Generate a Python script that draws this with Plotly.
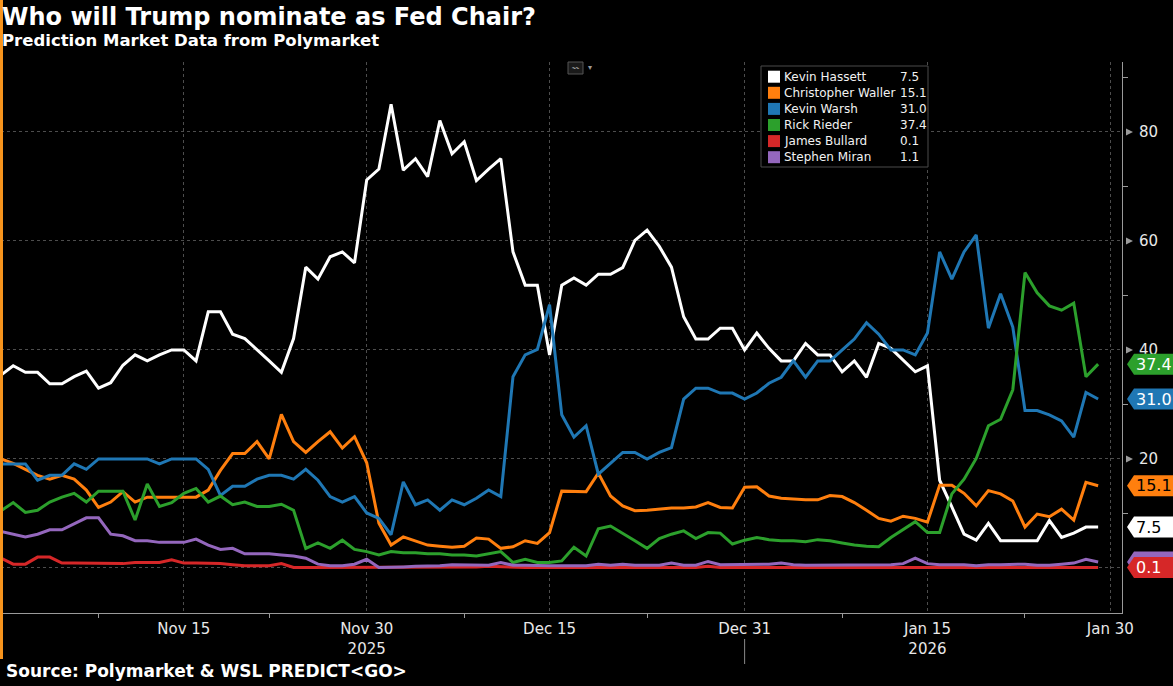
import plotly.graph_objects as go
import pandas as pd

# ---------------- data (daily, Oct 31 2025 .. Jan 29 2026) ----------------
start_date = "2025-10-31"

hassett = [35.4, 37.1, 35.9, 35.9, 33.8, 33.8, 35.1, 36.1, 33.0, 34.0,
           37.2, 39.1, 38.0, 39.1, 40.0, 40.0, 38.0, 47.0, 47.0, 42.9,
           42.1, 40.1, 38.0, 35.9, 42.1, 55.2, 53.0, 57.1, 58.0, 56.0,
           71.2, 73.2, 85.1, 73.0, 75.1, 71.8, 82.1, 76.0, 78.2, 71.1,
           73.2, 75.1, 58.0, 51.9, 51.9, 39.1, 51.9, 53.2, 51.9, 53.9,
           53.9, 55.1, 60.1, 62.0, 59.0, 55.2, 46.1, 42.0, 42.0, 44.0,
           44.0, 40.0, 43.1, 40.3, 38.0, 38.0, 41.2, 39.1, 39.1, 36.0,
           38.0, 35.0, 41.2, 40.3, 38.2, 36.0, 37.1, 16.1, 11.2, 6.2,
           5.1, 8.2, 5.0, 5.0, 5.0, 5.0, 8.7, 5.6, 6.4, 7.5,
           7.5]

waller = [20.0, 19.2, 18.1, 17.0, 16.3, 17.0, 16.3, 14.3, 11.1, 12.1,
          14.0, 12.1, 13.0, 13.0, 13.0, 13.0, 13.0, 14.3, 17.9, 21.0,
          21.0, 23.2, 20.0, 28.2, 23.2, 21.2, 23.2, 25.0, 22.0, 24.1,
          19.3, 8.2, 4.2, 5.7, 5.0, 4.2, 4.0, 3.8, 4.0, 5.5,
          5.3, 3.6, 3.9, 5.0, 4.5, 6.5, 14.1, 14.1, 14.0, 17.4,
          13.2, 11.4, 10.5, 10.6, 10.8, 11.0, 11.0, 11.2, 12.0, 11.1,
          11.0, 14.8, 14.9, 13.2, 12.8, 12.6, 12.5, 12.5, 13.3, 13.1,
          12.0, 10.6, 9.1, 8.6, 9.5, 9.1, 8.4, 15.2, 15.2, 13.7,
          11.4, 14.2, 13.6, 12.3, 7.5, 9.9, 9.4, 10.8, 8.8, 15.7,
          15.1]

warsh = [19.1, 19.1, 19.1, 16.1, 17.0, 17.0, 19.1, 18.1, 20.0, 20.0,
         20.0, 20.0, 20.0, 19.1, 20.0, 20.0, 20.0, 18.1, 13.3, 15.0,
         15.0, 16.3, 17.0, 17.0, 16.3, 18.1, 16.1, 13.1, 12.1, 13.1,
         10.1, 9.1, 6.1, 15.8, 11.6, 12.5, 10.6, 12.5, 11.6, 12.8,
         14.3, 13.1, 35.1, 39.1, 40.1, 48.3, 28.1, 24.0, 26.1, 17.2,
         19.2, 21.2, 21.2, 20.0, 21.2, 22.1, 31.0, 33.0, 33.0, 32.1,
         32.1, 31.0, 32.1, 33.9, 35.0, 38.0, 35.0, 38.0, 38.0, 40.0,
         42.0, 45.0, 42.9, 40.0, 40.0, 39.1, 43.1, 58.0, 53.0, 58.0,
         61.1, 44.0, 50.3, 44.2, 28.9, 28.9, 28.1, 27.0, 24.0, 32.2,
         31.0]

rieder = [10.5, 12.0, 10.2, 10.6, 12.1, 13.0, 13.7, 12.1, 14.1, 14.1,
          14.1, 8.8, 15.4, 11.3, 12.0, 13.7, 14.6, 12.1, 13.2, 11.6,
          12.1, 11.3, 11.3, 11.7, 10.6, 3.6, 4.6, 3.6, 5.1, 3.4,
          3.0, 2.4, 3.0, 2.8, 2.8, 2.6, 2.6, 2.4, 2.4, 2.2,
          2.6, 3.0, 1.0, 1.6, 1.0, 1.0, 1.3, 3.8, 2.2, 7.2,
          7.7, 6.4, 5.0, 3.6, 5.4, 6.2, 6.8, 5.4, 6.5, 6.4,
          4.4, 5.1, 5.6, 5.2, 5.0, 5.0, 4.8, 5.2, 5.0, 4.6,
          4.2, 4.0, 3.9, 5.6, 7.0, 8.5, 6.5, 6.5, 13.6, 16.3,
          20.1, 26.1, 27.3, 32.7, 54.2, 50.5, 48.1, 47.3, 48.6, 35.1,
          37.4]

bullard = [1.8, 0.7, 0.7, 2.0, 2.0, 0.9, 0.9, 0.9, 0.9, 0.9,
           0.8, 1.0, 1.0, 1.0, 1.5, 0.9, 0.9, 0.9, 0.8, 0.6,
           0.4, 0.4, 0.4, 0.8, 0.1, 0.1, 0.1, 0.1, 0.1, 0.1,
           0.2, 0.1, 0.1, 0.1, 0.1, 0.1, 0.1, 0.1, 0.2, 0.2,
           0.3, 0.2, 0.1, 0.1, 0.1, 0.1, 0.1, 0.1, 0.1, 0.2,
           0.1, 0.1, 0.1, 0.1, 0.1, 0.2, 0.1, 0.1, 0.3, 0.1,
           0.1, 0.1, 0.1, 0.2, 0.1, 0.1, 0.1, 0.1, 0.1, 0.1,
           0.1, 0.1, 0.1, 0.1, 0.1, 0.2, 0.1, 0.1, 0.1, 0.1,
           0.1, 0.1, 0.1, 0.1, 0.1, 0.1, 0.1, 0.1, 0.2, 0.2,
           0.1]

miran = [6.7, 6.2, 5.7, 6.2, 7.0, 7.0, 8.1, 9.2, 9.2, 6.2,
         5.9, 5.0, 5.0, 4.7, 4.7, 4.7, 5.3, 4.2, 3.4, 3.6,
         2.6, 2.6, 2.6, 2.4, 2.2, 1.8, 0.7, 0.4, 0.4, 0.7,
         1.6, 0.1, 0.1, 0.2, 0.3, 0.3, 0.4, 0.6, 0.6, 0.5,
         0.5, 1.0, 0.5, 0.5, 0.4, 0.4, 0.4, 0.4, 0.4, 0.7,
         0.5, 0.7, 0.5, 0.5, 0.5, 0.9, 0.5, 0.5, 1.2, 0.6,
         0.6, 0.6, 0.6, 0.7, 0.9, 0.6, 0.5, 0.5, 0.6, 0.6,
         0.5, 0.5, 0.5, 0.6, 0.8, 1.8, 0.8, 0.6, 0.6, 0.6,
         0.4, 0.6, 0.6, 0.6, 0.7, 0.5, 0.5, 0.7, 0.9, 1.6,
         1.1]

names = ["Kevin Hassett", "Christopher Waller", "Kevin Warsh",
         "Rick Rieder", "James Bullard", "Stephen Miran"]
series = [hassett, waller, warsh, rieder, bullard, miran]
colors = ["#ffffff", "#ff7f0e", "#1f77b4", "#2ca02c", "#d62728", "#9467bd"]
tag_text_colors = ["#000000", "#000000", "#ffffff", "#ffffff", "#ffffff", "#ffffff"]

x_tickvals = ["2025-11-15", "2025-11-30", "2025-12-15", "2025-12-31", "2026-01-15", "2026-01-30"]
x_ticktext = ["Nov 15", "Nov 30<br>2025", "Dec 15", "Dec 31", "Jan 15<br>2026", "Jan 30"]
x_minor = ["2025-11-08", "2025-11-22", "2025-12-08", "2025-12-23", "2026-01-08", "2026-01-23"]
y_tickvals = [0, 20, 40, 60, 80]
y_ticktext = ["", "20", "40", "60", "80"]
y_minor = [10, 30, 50, 70, 90]

title = "Who will Trump nominate as Fed Chair?"
subtitle = "Prediction Market Data from Polymarket"
source = "Source: Polymarket &amp; WSL PREDICT&lt;GO&gt;"

# ---------------- layout geometry (pixels) ----------------
W, H = 1173, 686
ML, MR, MT, MB = 1, 51, 62, 73
PW = W - ML - MR
PH = H - MT - MB


def px(x):
    return (x - ML) / PW


def py(y):
    return (H - MB - y) / PH


FONT = "DejaVu Sans"
dates = pd.date_range(start_date, periods=len(hassett), freq="D")

fig = go.Figure()
for nm, vals, col in zip(names, series, colors):
    fig.add_trace(go.Scatter(x=dates, y=vals, name=nm, mode="lines",
                             line=dict(color=col, width=3), showlegend=False))

shapes = []
annotations = []

# orange bar at the far left
shapes.append(dict(type="rect", xref="paper", yref="paper",
                   x0=px(0), x1=px(3), y0=py(659), y1=py(0),
                   fillcolor="#f7941d", line=dict(width=0), layer="above"))

# year separator tick under Dec 31
shapes.append(dict(type="line", xref="x", yref="paper",
                   x0="2025-12-31", x1="2025-12-31", y0=py(639), y1=py(664),
                   line=dict(color="#8a8a8a", width=1)))

# y-axis major tick triangles
for v in y_tickvals[1:]:
    shapes.append(dict(type="path", xref="paper", yref="y",
                       xsizemode="pixel", ysizemode="pixel", xanchor=1, yanchor=v,
                       path="M 4 -3.5 L 11 0 L 4 3.5 Z",
                       fillcolor="#9a9a9a", line=dict(width=0), layer="above"))

# chart icon
shapes.append(dict(type="rect", xref="paper", yref="paper",
                   x0=px(568), x1=px(583), y0=py(74), y1=py(62),
                   fillcolor="#1a1a1a", line=dict(color="#555555", width=1), layer="above"))
annotations.append(dict(xref="paper", yref="paper", x=px(575.5), y=py(68),
                        text="〰", showarrow=False, font=dict(family=FONT, size=7, color="#9a9a9a"),
                        xanchor="center", yanchor="middle"))
annotations.append(dict(xref="paper", yref="paper", x=px(590), y=py(67),
                        text="▾", showarrow=False, font=dict(family=FONT, size=8, color="#9a9a9a"),
                        xanchor="center", yanchor="middle"))

# last-value tags at the right (red drawn over purple, purple text hidden)
tag_order = [0, 1, 2, 3, 5, 4]
for i in tag_order:
    last = series[i][-1]
    shapes.append(dict(type="path", xref="paper", yref="y",
                       xsizemode="pixel", ysizemode="pixel", xanchor=1, yanchor=last,
                       path="M 5 0 L 12 -10.5 L 52 -10.5 L 52 10.5 L 12 10.5 Z",
                       fillcolor=colors[i], line=dict(width=0), layer="above"))
    if i == 5:
        continue
    annotations.append(dict(xref="paper", yref="y", x=1, y=last, xshift=13,
                            text=f"{last:.1f}", showarrow=False, borderpad=0,
                            xanchor="left", yanchor="middle",
                            font=dict(family=FONT, size=16, color=tag_text_colors[i])))

# custom legend box
shapes.append(dict(type="rect", xref="paper", yref="paper",
                   x0=px(761), x1=px(928), y0=py(167), y1=py(66),
                   fillcolor="#000000", line=dict(color="#4a4a4a", width=1), layer="above"))
for k, (nm, vals, col) in enumerate(zip(names, series, colors)):
    yc = 76.7 + 16.1 * k
    shapes.append(dict(type="rect", xref="paper", yref="paper",
                       x0=px(768), x1=px(780), y0=py(yc + 6), y1=py(yc - 6),
                       fillcolor=col, line=dict(width=0), layer="above"))
    annotations.append(dict(xref="paper", yref="paper", x=px(783), y=py(yc),
                            text=nm, showarrow=False, borderpad=0,
                            xanchor="left", yanchor="middle",
                            font=dict(family=FONT, size=12, color="#f2f2f2")))
    annotations.append(dict(xref="paper", yref="paper", x=px(899), y=py(yc),
                            text=f"{vals[-1]:.1f}", showarrow=False, borderpad=0,
                            xanchor="left", yanchor="middle",
                            font=dict(family=FONT, size=12, color="#f2f2f2")))

# title / subtitle / source
annotations.append(dict(xref="paper", yref="paper", x=px(1), y=py(17),
                        text=f"<b>{title}</b>", showarrow=False, borderpad=0,
                        xanchor="left", yanchor="middle",
                        font=dict(family=FONT, size=24, color="#ffffff")))
annotations.append(dict(xref="paper", yref="paper", x=px(1), y=py(40.5),
                        text=f"<b>{subtitle}</b>", showarrow=False, borderpad=0,
                        xanchor="left", yanchor="middle",
                        font=dict(family=FONT, size=16.5, color="#ffffff")))
annotations.append(dict(xref="paper", yref="paper", x=px(5), y=py(671),
                        text=f"<b>{source}</b>", showarrow=False, borderpad=0,
                        xanchor="left", yanchor="middle",
                        font=dict(family=FONT, size=17, color="#ffffff")))

fig.update_layout(
    width=W, height=H, autosize=False,
    margin=dict(l=ML, r=MR, t=MT, b=MB, pad=0),
    paper_bgcolor="#000000", plot_bgcolor="#000000",
    showlegend=False,
    shapes=shapes, annotations=annotations,
    xaxis=dict(
        type="date", range=["2025-10-31", "2026-01-30 23:00"],
        tickmode="array", tickvals=x_tickvals, ticktext=x_ticktext,
        ticks="", ticklabelstandoff=2,
        tickfont=dict(family=FONT, size=15, color="#e8e8e8"),
        showgrid=True, gridcolor="#4d4d4d", griddash="dot", gridwidth=1,
        showline=True, linecolor="#9a9a9a", linewidth=1,
        zeroline=False, automargin=False, fixedrange=True,
        minor=dict(tickmode="array", tickvals=x_minor, ticks="outside", ticklen=4,
                   tickcolor="#9a9a9a", tickwidth=1, showgrid=False),
    ),
    yaxis=dict(
        side="right", range=[-8.26, 92.84],
        tickmode="array", tickvals=y_tickvals, ticktext=y_ticktext,
        ticks="", ticklabelstandoff=13,
        tickfont=dict(family=FONT, size=15, color="#e8e8e8"),
        showgrid=True, gridcolor="#4d4d4d", griddash="dot", gridwidth=1,
        showline=True, linecolor="#9a9a9a", linewidth=1,
        zeroline=False, automargin=False, fixedrange=True,
        minor=dict(tickmode="array", tickvals=y_minor, ticks="outside", ticklen=5,
                   tickcolor="#9a9a9a", tickwidth=1, showgrid=False),
    ),
)

fig.write_html("out.html",
               config={"displayModeBar": False, "staticPlot": True},
               post_script="document.body.style.margin='0';document.body.style.padding='0';"
                           "document.body.style.overflow='hidden';")
